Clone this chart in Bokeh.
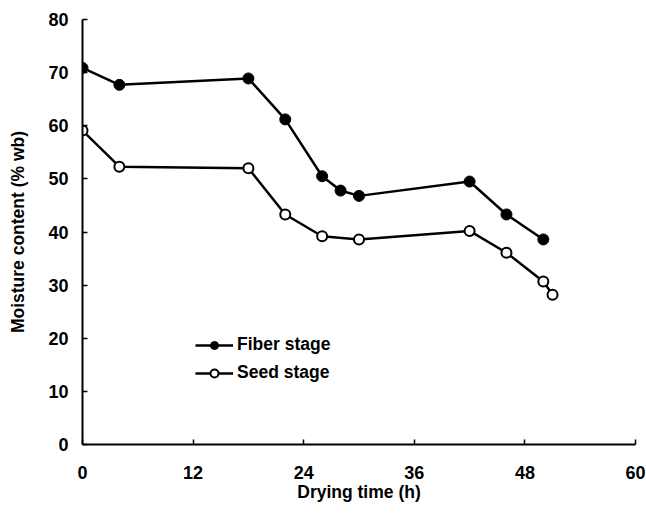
from bokeh.plotting import figure
from bokeh.models import Range1d, FixedTicker
from bokeh.embed import file_html
from bokeh.resources import INLINE

# Data
time_fiber = [0, 4, 18, 22, 26, 28, 30, 42, 46, 50]
moisture_fiber = [70.9, 67.7, 68.9, 61.2, 50.5, 47.8, 46.8, 49.5, 43.3, 38.6]
time_seed = [0, 4, 18, 22, 26, 30, 42, 46, 50, 51]
moisture_seed = [59.1, 52.3, 52.0, 43.3, 39.2, 38.6, 40.2, 36.1, 30.7, 28.2]
x_ticks = [0, 12, 24, 36, 48, 60]
y_ticks = [0, 10, 20, 30, 40, 50, 60, 70, 80]

FONT = "Liberation Sans"

p = figure(width=646, height=515, output_backend="svg", toolbar_location=None,
           x_range=Range1d(0, 60), y_range=Range1d(0, 80),
           min_border_left=82, min_border_right=11, min_border_top=19, min_border_bottom=71)
p.outline_line_color = None
p.xgrid.grid_line_color = None
p.ygrid.grid_line_color = None
p.background_fill_color = "white"

p.line(time_fiber, moisture_fiber, line_color="black", line_width=2.5, legend_label="Fiber stage")
p.scatter(time_fiber, moisture_fiber, marker="circle", size=11, fill_color="black",
          line_color="black", legend_label="Fiber stage")
p.line(time_seed, moisture_seed, line_color="black", line_width=2.5, legend_label="Seed stage")
p.scatter(time_seed, moisture_seed, marker="circle", size=10, fill_color="white",
          line_color="black", line_width=2, legend_label="Seed stage")

for ax in (p.xaxis[0], p.yaxis[0]):
    ax.axis_line_width = 2
    ax.axis_line_color = "black"
    ax.major_tick_line_width = 1.5
    ax.major_tick_line_color = "black"
    ax.major_tick_in = 5
    ax.major_tick_out = 0
    ax.minor_tick_line_color = None
    ax.major_label_text_font = FONT
    ax.major_label_text_font_style = "bold"
    ax.major_label_text_font_size = "18px"
    ax.major_label_text_color = "black"
    ax.axis_label_text_font = FONT
    ax.axis_label_text_font_style = "bold"
    ax.axis_label_text_font_size = "17.5px"
    ax.axis_label_text_color = "black"

p.xaxis.ticker = FixedTicker(ticks=x_ticks)
p.yaxis.ticker = FixedTicker(ticks=y_ticks)
p.xaxis.axis_label = "Drying time (h)"
p.yaxis.axis_label = "Moisture content (% wb)"
p.xaxis.major_label_standoff = 21
p.xaxis.axis_label_standoff = 0
p.yaxis.major_label_standoff = 14
p.yaxis.axis_label_standoff = 17

leg = p.legend[0]
leg.location = (113, 61)
leg.padding = 0
leg.margin = 0
leg.spacing = 7
leg.glyph_width = 38
leg.glyph_height = 20
leg.label_height = 20
leg.label_standoff = 4
leg.border_line_color = None
leg.background_fill_alpha = 0
leg.label_text_font = FONT
leg.label_text_font_style = "bold"
leg.label_text_font_size = "17.5px"
leg.label_text_color = "black"

open("out.html", "w").write(file_html(p, INLINE))
